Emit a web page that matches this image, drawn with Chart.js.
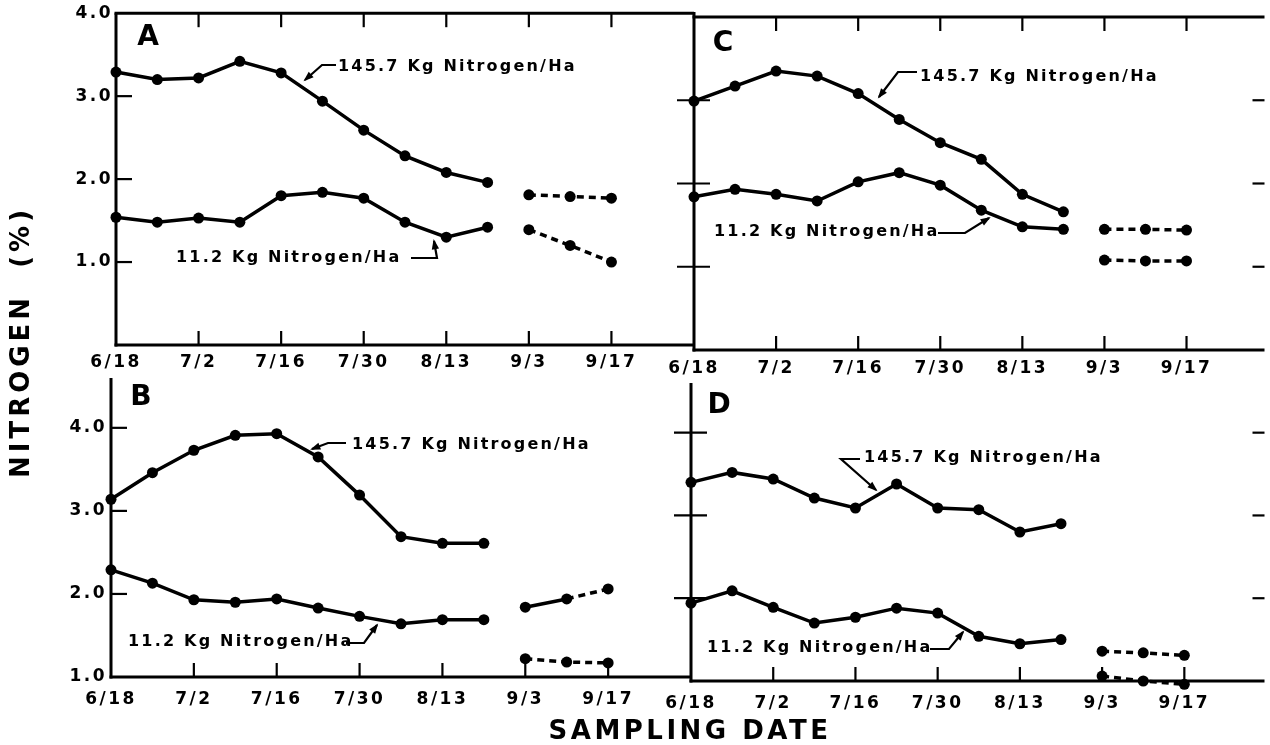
<!DOCTYPE html>
<html>
<head>
<meta charset="utf-8">
<title>Nitrogen (%) by sampling date</title>
<script src="https://cdn.jsdelivr.net/npm/chart.js@4.4.1/dist/chart.umd.min.js"></script>
<style>
  body { margin: 0; background: #fff; overflow: hidden; }
  #fig { position: relative; width: 1270px; height: 745px; }
  #fig canvas { position: absolute; left: 0; top: 0; }
</style>
</head>
<body>
<div id="fig">
  <canvas id="panelA" width="1270" height="745"></canvas>
  <canvas id="panelB" width="1270" height="745"></canvas>
  <canvas id="panelC" width="1270" height="745"></canvas>
  <canvas id="panelD" width="1270" height="745"></canvas>
</div>
<script>
// sampling dates: weekly 6/18 .. 8/20, then 9/3, 9/10, 9/17 (8/27 not sampled)
const weekIdx = [0, 1, 2, 3, 4, 5, 6, 7, 8, 9];
const fallIdx = [10, 11, 12];
const xTickIdx = [0, 2, 4, 6, 8, 10, 12];
const xTickLabels = ['6/18', '7/2', '7/16', '7/30', '8/13', '9/3', '9/17'];
const xTickMarks = [2, 4, 6, 8, 10, 12];

const yTickLabels = [1, 2, 3, 4];

const highLabel = '145.7 Kg Nitrogen/Ha';
const lowLabel = '11.2 Kg Nitrogen/Ha';

// panel A
const aHigh = [3.29, 3.20, 3.22, 3.42, 3.28, 2.94, 2.59, 2.28, 2.08, 1.96];
const aHighFall = [1.81, 1.79, 1.77];
const aLow = [1.54, 1.48, 1.53, 1.48, 1.80, 1.84, 1.77, 1.48, 1.30, 1.42];
const aLowFall = [1.39, 1.20, 1.00];

// panel B
const bHigh = [3.14, 3.46, 3.73, 3.91, 3.93, 3.65, 3.19, 2.69, 2.61, 2.61];
const bHighFall = [1.84, 1.94, 2.06];
const bLow = [2.29, 2.13, 1.93, 1.90, 1.94, 1.83, 1.73, 1.64, 1.69, 1.69];
const bLowFall = [1.22, 1.18, 1.17];

// panel C
const cHigh = [2.99, 3.17, 3.35, 3.29, 3.08, 2.77, 2.49, 2.29, 1.87, 1.66];
const cHighFall = [1.45, 1.45, 1.44];
const cLow = [1.84, 1.93, 1.87, 1.79, 2.02, 2.13, 1.98, 1.68, 1.48, 1.45];
const cLowFall = [1.08, 1.07, 1.07];

// panel D
const dHigh = [3.40, 3.52, 3.44, 3.21, 3.09, 3.38, 3.09, 3.07, 2.80, 2.90];
const dHighFall = [1.36, 1.34, 1.31];
const dLow = [1.94, 2.09, 1.89, 1.70, 1.77, 1.88, 1.82, 1.54, 1.45, 1.50];
const dLowFall = [1.06, 1.00, 0.96];

const FONT = '"DejaVu Sans", "Liberation Sans", sans-serif';
Chart.defaults.font.family = FONT;
Chart.defaults.font.weight = 'bold';
Chart.defaults.font.size = 17;
Chart.defaults.color = '#000';

const W = 1270, H = 745;
const Y_AXIS_W = 44, X_AXIS_H = 30;

const series = (xs, ys, extra) => Object.assign({
    data: xs.map((x, i) => ({ x: x, y: ys[i] })),
    borderColor: '#000',
    backgroundColor: '#000',
    borderWidth: 3.5,
    pointRadius: 5.5,
    pointHoverRadius: 5.5,
    pointBorderWidth: 0,
    tension: 0,
    clip: 10
}, extra);

// dashed late-season series; B's upper one starts with a solid segment
const fallSeries = (ys, solidFirst) => series(fallIdx, ys, {
    segment: {
        borderDash: c => (solidFirst && c.p0DataIndex === 0) ? undefined : [7, 5]
    }
});

function leader(ctx, pts) {
    ctx.lineWidth = 2.2;
    ctx.beginPath();
    pts.forEach(([x, y], i) => i ? ctx.lineTo(x, y) : ctx.moveTo(x, y));
    ctx.stroke();
    const [x1, y1] = pts[pts.length - 2];
    const [x2, y2] = pts[pts.length - 1];
    const a = Math.atan2(y2 - y1, x2 - x1), L = 9, s = 0.42;
    ctx.beginPath();
    ctx.moveTo(x2 + 2 * Math.cos(a), y2 + 2 * Math.sin(a));
    ctx.lineTo(x2 - L * Math.cos(a - s), y2 - L * Math.sin(a - s));
    ctx.lineTo(x2 - L * Math.cos(a + s), y2 - L * Math.sin(a + s));
    ctx.closePath();
    ctx.fill();
}

function figurePlugin(cfg) {
    return {
        id: 'figure',
        beforeDraw(chart) {
            chart.ctx.letterSpacing = '2.5px';
        },
        afterDraw(chart) {
            const ctx = chart.ctx;
            const { left, right, top, bottom } = chart.chartArea;
            const xs = chart.scales.x, ys = chart.scales.y;
            const seg = (x1, y1, x2, y2, w) => {
                ctx.lineWidth = w;
                ctx.beginPath();
                ctx.moveTo(x1, y1);
                ctx.lineTo(x2, y2);
                ctx.stroke();
            };
            ctx.save();
            ctx.strokeStyle = '#000';
            ctx.fillStyle = '#000';
            ctx.lineCap = 'butt';

            // frame
            seg(left, top - (cfg.leftAbove || 0), left, bottom + 1.5, 3);
            seg(left - 1.5, bottom, right, bottom, 3);
            if (cfg.topLine) seg(left - 1.5, top, right, top, 3);

            // inward tick marks on the date axis
            xTickMarks.forEach(v => {
                const px = xs.getPixelForValue(v);
                seg(px, bottom, px, bottom - 14, 2.2);
                if (cfg.topLine) seg(px, top, px, top + 14, 2.2);
            });

            // nitrogen tick marks
            cfg.yMarks.forEach(v => {
                const py = ys.getPixelForValue(v);
                seg(cfg.crossTicks ? left - 17 : left, py, left + 16, py, 2.2);
                if (cfg.rightTicks) seg(right - 12, py, right, py, 2.2);
            });

            // curve labels
            ctx.letterSpacing = '2.2px';
            ctx.font = 'bold 16px ' + FONT;
            ctx.textBaseline = 'middle';
            ctx.textAlign = 'left';
            cfg.notes.forEach(n => {
                ctx.fillText(n.text, n.x, n.y);
                leader(ctx, n.path);
            });

            // panel letter
            ctx.letterSpacing = '0px';
            ctx.font = 'bold 28px ' + FONT;
            ctx.textAlign = 'center';
            ctx.fillText(cfg.letter, cfg.letterAt[0], cfg.letterAt[1]);

            if (cfg.titles) {
                ctx.font = 'bold 26px ' + FONT;
                ctx.letterSpacing = '4px';
                ctx.save();
                ctx.translate(22, 342);
                ctx.rotate(-Math.PI / 2);
                ctx.fillText('NITROGEN  (%)', 0, 0);
                ctx.restore();
                ctx.letterSpacing = '3.5px';
                ctx.fillText('SAMPLING DATE', 690, 732);
            }
            ctx.restore();
        }
    };
}

function makePanel(cfg) {
    const box = cfg.box;
    const yW = cfg.yLabels ? Y_AXIS_W : 0;
    return new Chart(document.getElementById(cfg.id), {
        type: 'line',
        data: {
            datasets: [
                series(weekIdx, cfg.high),
                series(weekIdx, cfg.low),
                fallSeries(cfg.highFall, cfg.solidFirst),
                fallSeries(cfg.lowFall, false)
            ]
        },
        options: {
            responsive: false,
            animation: false,
            devicePixelRatio: 1,
            events: [],
            layout: {
                padding: {
                    left: box.left - yW,
                    right: W - box.right,
                    top: box.top,
                    bottom: H - box.bottom - X_AXIS_H
                }
            },
            plugins: {
                legend: { display: false },
                tooltip: { enabled: false }
            },
            scales: {
                x: {
                    type: 'linear',
                    min: 0,
                    max: cfg.xMax,
                    grid: { display: false, drawTicks: false },
                    border: { display: false },
                    afterBuildTicks: s => { s.ticks = xTickIdx.map(v => ({ value: v })); },
                    afterFit: s => { s.height = X_AXIS_H; },
                    ticks: {
                        padding: cfg.xPad,
                        autoSkip: false,
                        maxRotation: 0,
                        callback: v => xTickLabels[xTickIdx.indexOf(v)] || ''
                    }
                },
                y: {
                    type: 'linear',
                    display: cfg.yLabels,
                    min: cfg.yMin,
                    max: cfg.yMax,
                    grid: { display: false, drawTicks: false },
                    border: { display: false },
                    afterBuildTicks: s => { s.ticks = yTickLabels.map(v => ({ value: v })); },
                    // hidden axes (C, D) must not take any room
                    afterFit: s => { s.width = cfg.yLabels ? Y_AXIS_W : 0; },
                    ticks: {
                        padding: cfg.yPad || 3,
                        callback: v => v.toFixed(1)
                    }
                }
            }
        },
        plugins: [figurePlugin(cfg)]
    });
}

makePanel({
    id: 'panelA', letter: 'A', letterAt: [148, 38], titles: true,
    box: { left: 116, right: 694, top: 12, bottom: 345 },
    xMax: 14, yMin: 0, yMax: 4, yLabels: true, yPad: 3, xPad: 7,
    topLine: true, yMarks: [1, 2, 3],
    high: aHigh, highFall: aHighFall, low: aLow, lowFall: aLowFall,
    notes: [
        { text: highLabel, x: 338, y: 67, path: [[336, 65], [322, 65], [305, 80]] },
        { text: lowLabel, x: 176, y: 258, path: [[411, 258], [437, 258], [434, 241]] }
    ]
});

makePanel({
    id: 'panelB', letter: 'B', letterAt: [141, 398],
    box: { left: 111, right: 691, top: 378, bottom: 677 },
    xMax: 14, yMin: 1, yMax: 4.6, yLabels: true, yPad: 4, xPad: 12,
    yMarks: [2, 3, 4], solidFirst: true,
    high: bHigh, highFall: bHighFall, low: bLow, lowFall: bLowFall,
    notes: [
        { text: highLabel, x: 352, y: 445, path: [[346, 443], [328, 443], [312, 449]] },
        { text: lowLabel, x: 128, y: 642, path: [[346, 643], [364, 643], [377, 625]] }
    ]
});

makePanel({
    id: 'panelC', letter: 'C', letterAt: [723, 44],
    box: { left: 694, right: 1270, top: 17, bottom: 350 },
    xMax: 13.9, yMin: 0, yMax: 4, yLabels: false, xPad: 8,
    topLine: true, leftAbove: 5, crossTicks: true, rightTicks: true, yMarks: [1, 2, 3],
    high: cHigh, highFall: cHighFall, low: cLow, lowFall: cLowFall,
    notes: [
        { text: highLabel, x: 920, y: 77, path: [[917, 72], [898, 72], [879, 97]] },
        { text: lowLabel, x: 714, y: 232, path: [[938, 233], [965, 233], [989, 218]] }
    ]
});

makePanel({
    id: 'panelD', letter: 'D', letterAt: [719, 406],
    box: { left: 691, right: 1270, top: 383, bottom: 681 },
    xMax: 13.95, yMin: 1, yMax: 4.6, yLabels: false, xPad: 12,
    crossTicks: true, rightTicks: true, yMarks: [2, 3, 4],
    high: dHigh, highFall: dHighFall, low: dLow, lowFall: dLowFall,
    notes: [
        { text: highLabel, x: 864, y: 458, path: [[860, 459], [841, 459], [876, 490]] },
        { text: lowLabel, x: 707, y: 648, path: [[930, 649], [949, 649], [963, 632]] }
    ]
});
</script>
</body>
</html>
